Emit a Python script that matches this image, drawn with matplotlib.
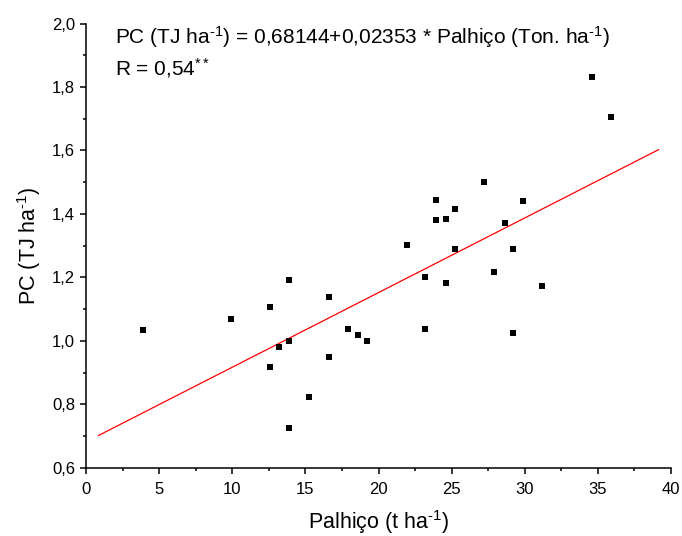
import matplotlib
matplotlib.use("Agg")
import matplotlib.pyplot as plt
from matplotlib.ticker import MultipleLocator, FuncFormatter

plt.rcParams['font.family'] = ['Liberation Sans', 'DejaVu Sans']
plt.rcParams['mathtext.fontset'] = 'custom'
plt.rcParams['mathtext.rm'] = 'Liberation Sans'
plt.rcParams['mathtext.it'] = 'Liberation Sans:italic'

# palhico (t/ha) vs PC (TJ/ha)
palhico = [3.92, 9.91, 12.60, 13.90, 16.62, 17.91, 18.62, 19.19, 13.90, 13.22,
           12.60, 16.62, 15.23, 13.90,
           34.60, 35.90, 27.21, 23.91, 29.90, 25.21, 23.91, 24.62, 28.63, 21.93,
           25.21, 29.20, 27.90, 23.20, 24.62, 31.20, 23.20, 29.20]
pc = [1.033, 1.069, 1.107, 1.193, 1.139, 1.038, 1.019, 0.999, 1.001, 0.979,
      0.916, 0.950, 0.824, 0.725,
      1.832, 1.704, 1.501, 1.445, 1.441, 1.415, 1.380, 1.384, 1.370, 1.303,
      1.291, 1.291, 1.218, 1.200, 1.183, 1.174, 1.037, 1.026]

intercept = 0.68144
slope = 0.02353
fit_x = [0.85, 39.15]
fit_y = [intercept + slope * v for v in fit_x]

fig = plt.figure(figsize=(6.82, 5.36), dpi=100)
ax = fig.add_axes([0.1261, 0.1274, 0.8578, 0.8286])

ax.plot(fit_x, fit_y, color='red', lw=0.9)
ax.plot(palhico, pc, 's', color='black', markersize=4.6, markeredgewidth=0)

ax.set_xlim(0, 40)
ax.set_ylim(0.6, 2.0)
ax.xaxis.set_major_locator(MultipleLocator(5))
ax.xaxis.set_minor_locator(MultipleLocator(2.5))
ax.yaxis.set_major_locator(MultipleLocator(0.2))
ax.yaxis.set_minor_locator(MultipleLocator(0.1))
ax.yaxis.set_major_formatter(FuncFormatter(lambda v, p: ('%.1f' % v).replace('.', ',')))

for s in ['top', 'right']:
    ax.spines[s].set_visible(False)
for s in ['left', 'bottom']:
    ax.spines[s].set_linewidth(1.1)
ax.tick_params(which='major', direction='out', length=4.5, width=1.1, labelsize=12)
ax.tick_params(axis='x', which='major', pad=5.5)
ax.tick_params(which='minor', direction='out', length=2.3, width=1.1)

sup = r'$^{\text{-1}}$'
ax.set_xlabel('Palhiço (t ha' + sup + ')', fontsize=15.5, labelpad=8)
ax.set_ylabel('PC (TJ ha' + sup + ')', fontsize=15.5, labelpad=6)

ax.text(0.05, 0.970, 'PC (TJ ha' + sup + ') = 0,68144+0,02353 * Palhiço (Ton. ha' + sup + ')',
        transform=ax.transAxes, fontsize=15, va='center', ha='left')
ax.text(0.05, 0.900, 'R = 0,54' + r'$^{**}$', transform=ax.transAxes,
        fontsize=15, va='center', ha='left')

fig.savefig('out.png', dpi=100)
